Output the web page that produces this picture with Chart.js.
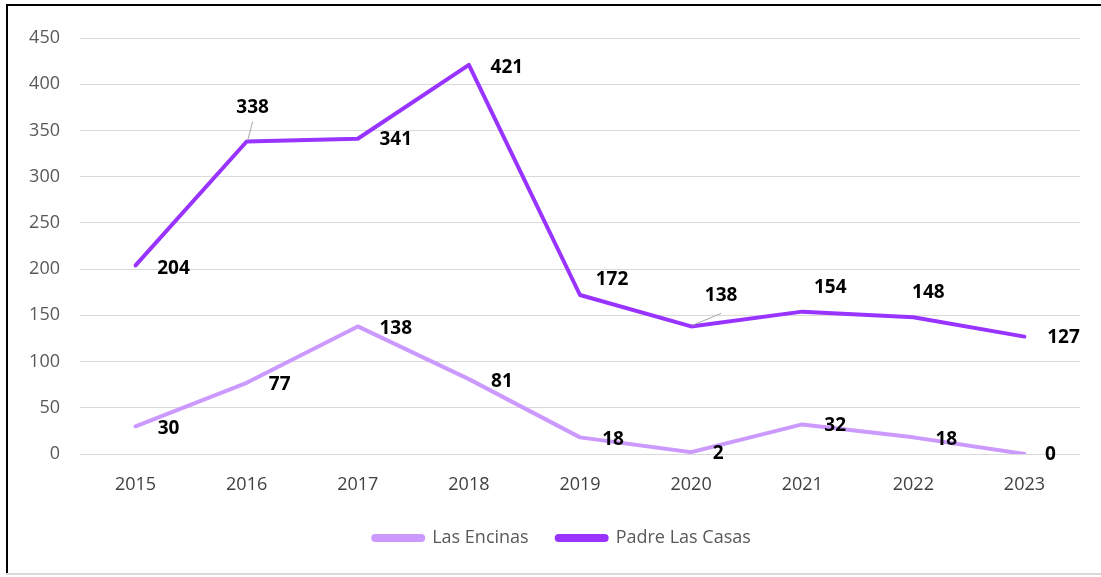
<!DOCTYPE html>
<html>
<head>
<meta charset="utf-8">
<script src="https://cdn.jsdelivr.net/npm/chart.js@4/dist/chart.umd.min.js"></script>
<style>
html,body{margin:0;padding:0;background:#fff;}
#wrap{position:absolute;left:0;top:0;width:1101px;height:577px;}
</style>
</head>
<body>
<div id="wrap"><canvas id="c" width="1101" height="577"></canvas></div>
<script>
const years = ["2015","2016","2017","2018","2019","2020","2021","2022","2023"];
const lasEncinas = [30, 77, 138, 81, 18, 2, 32, 18, 0];
const padreLasCasas = [204, 338, 341, 421, 172, 138, 154, 148, 127];
const yTicks = [0, 50, 100, 150, 200, 250, 300, 350, 400, 450];

// label offsets (dx, dy) from each point, in pixels
const encinasOffsets = [[33,2],[33,2],[38,2],[33,2],[33,2],[27,1],[33,1],[33,2],[26,1]];
const padreOffsets = [[38,3],[6,-34,true],[38,1],[38,3],[32,-15],[30,-31,true],[28,-24],[15,-25],[39,1]];

const FONT = '"Open Sans", Lato, sans-serif';

const labelPlugin = {
  id: 'labels',
  afterLayout(chart) {
    if (chart.legend) { chart.legend.left += 17; chart.legend.right += 17; }
  },
  beforeDraw(chart) {
    const ctx = chart.ctx;
    ctx.save();
    ctx.fillStyle = '#fff';
    ctx.fillRect(0,0,chart.width,chart.height);
    ctx.fillStyle = '#000';
    ctx.fillRect(6,4,chart.width-6,2);
    ctx.fillRect(6,4,2,570);
    ctx.fillStyle = '#d9d9d9';
    ctx.fillRect(6,573,chart.width-6,2);
    ctx.restore();
  },
  afterDatasetsDraw(chart) {
    const ctx = chart.ctx;
    ctx.save();
    ctx.font = 'bold 19px ' + FONT;
    ctx.textAlign = 'center';
    ctx.textBaseline = 'middle';
    const sets = [encinasOffsets, padreOffsets];
    chart.data.datasets.forEach((ds, di) => {
      const meta = chart.getDatasetMeta(di);
      meta.data.forEach((pt, i) => {
        const off = sets[di][i];
        const x = pt.x + off[0], y = pt.y + off[1];
        if (off[2]) {
          ctx.strokeStyle = '#a6a6a6';
          ctx.lineWidth = 1;
          ctx.beginPath();
          ctx.moveTo(pt.x + 1, pt.y - 1);
          if (i === 1) ctx.lineTo(pt.x + 6, pt.y - 20);
          else ctx.lineTo(pt.x + 30, pt.y - 13);
          ctx.stroke();
        }
        ctx.fillStyle = '#000';
        ctx.fillText(String(ds.data[i]), x, y);
      });
    });
    ctx.restore();
  }
};

new Chart(document.getElementById('c'), {
  type: 'line',
  data: {
    labels: years,
    datasets: [
      { label: 'Las Encinas', data: lasEncinas, borderColor: '#cc99ff', backgroundColor: '#cc99ff',
        borderWidth: 4, pointRadius: 0, tension: 0, borderCapStyle: 'round', borderJoinStyle: 'round' },
      { label: 'Padre Las Casas', data: padreLasCasas, borderColor: '#9933ff', backgroundColor: '#9933ff',
        borderWidth: 4, pointRadius: 0, tension: 0, borderCapStyle: 'round', borderJoinStyle: 'round' }
    ]
  },
  options: {
    responsive: false,
    animation: false,
    events: [],
    layout: { padding: { left: 10, right: 21, top: 38, bottom: 20 } },
    plugins: {
      legend: {
        position: 'bottom',
        labels: {
          font: { family: FONT, size: 18 },
          color: '#595959',
          boxWidth: 50,
          boxHeight: 4,
          padding: 28,
          useBorderRadius: true,
          borderRadius: 2
        }
      },
      tooltip: { enabled: false }
    },
    scales: {
      x: {
        offset: true,
        grid: { display: false, drawTicks: false },
        border: { display: false },
        ticks: { color: '#404040', font: { family: FONT, size: 18 }, padding: 20 },
        afterFit(s) { s.height = 47; }
      },
      y: {
        min: 0, max: 450,
        afterBuildTicks(s) { s.ticks = yTicks.map(v => ({ value: v })); },
        grid: { color: '#d9d9d9', lineWidth: 1, drawTicks: false },
        border: { display: false },
        ticks: { color: '#595959', font: { family: FONT, size: 18 }, padding: 20 },
        afterFit(s) { s.width = 70; }
      }
    }
  },
  plugins: [labelPlugin]
});
</script>
</body>
</html>
